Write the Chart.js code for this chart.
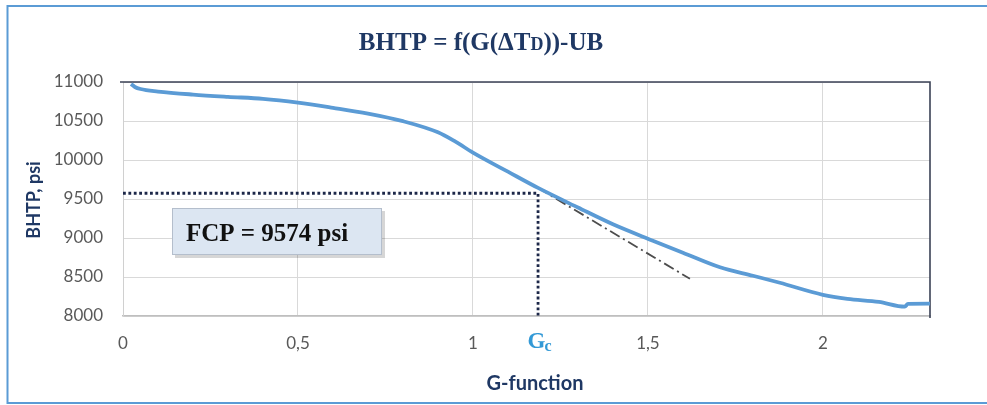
<!DOCTYPE html>
<html>
<head>
<meta charset="utf-8">
<title>BHTP = f(G(ΔTD))-UB</title>
<script src="https://cdn.jsdelivr.net/npm/chart.js@4.4.1/dist/chart.umd.min.js"></script>
<style>
  html, body { margin: 0; padding: 0; background: #ffffff; }
  #wrap { width: 987px; height: 405px; position: relative; }
</style>
</head>
<body>
<div id="wrap"><canvas id="c" width="987" height="405"></canvas></div>
<script>
// G-function values and bottom-hole treating pressure (psi)
const gValues    = [0.023, 0.034, 0.05, 0.10, 0.20, 0.30, 0.40, 0.50, 0.60, 0.70, 0.80, 0.90, 0.95, 1.00, 1.10, 1.186, 1.30, 1.40, 1.514, 1.60, 1.706, 1.80, 1.877, 2.00, 2.07, 2.16, 2.234, 2.243, 2.306];
const bhtpValues = [10975, 10936, 10910, 10878, 10839, 10810, 10785, 10736, 10669, 10595, 10498, 10355, 10235, 10095, 9850, 9642, 9391, 9176, 8966, 8812, 8625, 8516, 8426, 8272, 8220, 8181, 8120, 8156, 8158];

// closure point: G-function at closure and fracture closure pressure
const gClosure = 1.186;
const fcpPsi = 9574;

// straight-line (tangent) extrapolation from closure
const tangentG = [1.186, 1.62];
const tangentP = [9642, 8477];

// axis ticks
const xTicks = [0, 0.5, 1, 1.5, 2];
const yTicks = [8000, 8500, 9000, 9500, 10000, 10500, 11000];
const xMax = 2.306;

const pts = (xs, ys) => xs.map((x, i) => ({ x: x, y: ys[i] }));

const NAVY = '#1F3864';
const SERIF = '"Liberation Serif", "Times New Roman", serif';

const decorPlugin = {
  id: 'decor',
  beforeDatasetsDraw(chart) {
    const { ctx, chartArea: a } = chart;
    ctx.save();
    // plot frame: dark top and right edges
    ctx.strokeStyle = '#3B4256';
    ctx.lineWidth = 1.6;
    ctx.beginPath();
    ctx.moveTo(a.left - 3, a.top);
    ctx.lineTo(a.right, a.top);
    ctx.lineTo(a.right, a.bottom + 2);
    ctx.stroke();
    ctx.restore();
  },
  afterDraw(chart) {
    const { ctx, scales } = chart;
    const x = scales.x;
    ctx.save();

    // outer frame (left, top, bottom)
    ctx.strokeStyle = '#5B9BD5';
    ctx.lineWidth = 2;
    ctx.beginPath();
    ctx.moveTo(992, 6);
    ctx.lineTo(7.5, 6);
    ctx.lineTo(7.5, 403);
    ctx.lineTo(992, 403);
    ctx.stroke();

    // chart title, with a small-cap D
    ctx.fillStyle = NAVY;
    ctx.textBaseline = 'alphabetic';
    const big = 'bold 25px ' + SERIF;
    const small = 'bold 18px ' + SERIF;
    const parts = [['BHTP = f(G(ΔT', big], ['D', small], ['))-UB', big]];
    let w = 0;
    parts.forEach(p => { ctx.font = p[1]; w += ctx.measureText(p[0]).width; });
    let tx = 481 - w / 2;
    parts.forEach(p => {
      ctx.font = p[1];
      ctx.fillText(p[0], tx, 50);
      tx += ctx.measureText(p[0]).width;
    });

    // axis titles
    ctx.fillStyle = NAVY;
    ctx.font = 'bold 18px Lato, "Open Sans", sans-serif';
    ctx.textAlign = 'center';
    ctx.textBaseline = 'middle';
    ctx.save();
    ctx.translate(34, 200);
    ctx.rotate(-Math.PI / 2);
    ctx.fillText('BHTP, psi', 0, 0);
    ctx.restore();
    ctx.font = 'bold 20px Lato, "Open Sans", sans-serif';
    ctx.fillText('G-function', 535, 384);

    // G_c marker under the axis
    const gx = x.getPixelForValue(gClosure);
    ctx.textAlign = 'left';
    ctx.textBaseline = 'alphabetic';
    ctx.fillStyle = '#3399D6';
    ctx.font = 'bold 23px ' + SERIF;
    const gw = ctx.measureText('G').width;
    ctx.font = 'bold 16px ' + SERIF;
    const cw = ctx.measureText('c').width;
    const gStart = gx - (gw + cw) / 2 + 2;
    ctx.font = 'bold 23px ' + SERIF;
    ctx.fillText('G', gStart, 348);
    ctx.font = 'bold 16px ' + SERIF;
    ctx.fillText('c', gStart + gw - 1, 351);

    // FCP call-out box
    const bx = 172, by = 208, bw = 210, bh = 47;
    ctx.fillStyle = 'rgba(0,0,0,0.16)';
    ctx.fillRect(bx + 3, by + 3, bw, bh);
    ctx.fillStyle = '#DCE6F2';
    ctx.fillRect(bx, by, bw, bh);
    ctx.strokeStyle = '#B4BECC';
    ctx.lineWidth = 1;
    ctx.strokeRect(bx + 0.5, by + 0.5, bw - 1, bh - 1);
    ctx.fillStyle = '#111111';
    ctx.font = 'bold 25px ' + SERIF;
    ctx.fillText('FCP = ' + fcpPsi + ' psi', 186, 241);

    ctx.restore();
  }
};

new Chart(document.getElementById('c'), {
  type: 'line',
  data: {
    datasets: [
      {
        label: 'BHTP',
        data: pts(gValues, bhtpValues),
        borderColor: '#5B9BD5',
        borderWidth: 3.8,
        pointRadius: 0,
        cubicInterpolationMode: 'monotone',
        fill: false
      },
      {
        label: 'Tangent',
        data: pts(tangentG, tangentP),
        borderColor: '#4D4D4D',
        borderWidth: 1.8,
        borderDash: [11, 4, 2, 4],
        pointRadius: 0,
        fill: false
      },
      {
        label: 'FCP',
        data: [{ x: 0, y: fcpPsi }, { x: gClosure, y: fcpPsi }, { x: gClosure, y: 8000 }],
        borderColor: '#1C2748',
        borderWidth: 2.8,
        borderDash: [2.8, 2.6],
        borderCapStyle: 'butt',
        pointRadius: 0,
        tension: 0,
        fill: false
      }
    ]
  },
  options: {
    responsive: false,
    animation: false,
    devicePixelRatio: 1,
    layout: { padding: { left: 8, right: 57, top: 82, bottom: 0 } },
    plugins: { legend: { display: false }, tooltip: { enabled: false }, title: { display: false } },
    scales: {
      x: {
        type: 'linear',
        min: 0,
        max: xMax,
        afterBuildTicks: s => { s.ticks = xTicks.map(v => ({ value: v })); },
        afterFit: s => { s.height = 89; },
        ticks: {
          includeBounds: false,
          color: '#595959',
          font: { family: 'Lato', size: 17 },
          padding: 17,
          callback: v => String(v).replace('.', ',')
        },
        grid: { color: '#D9D9D9', lineWidth: 1, drawTicks: false },
        border: { color: '#BFBFBF', width: 1.5 }
      },
      y: {
        type: 'linear',
        min: 8000,
        max: 11000,
        afterBuildTicks: s => { s.ticks = yTicks.map(v => ({ value: v })); },
        afterFit: s => { s.width = 115; },
        ticks: {
          color: '#595959',
          font: { family: 'Lato', size: 17 },
          padding: 20,
          callback: v => String(v)
        },
        grid: { color: '#D9D9D9', lineWidth: 1, drawTicks: false },
        border: { color: '#D0D0D0', width: 1 }
      }
    }
  },
  plugins: [decorPlugin]
});
</script>
</body>
</html>
